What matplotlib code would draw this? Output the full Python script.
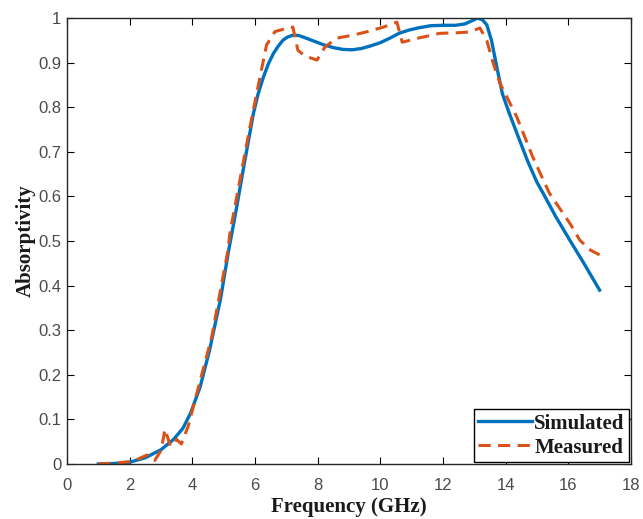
import matplotlib.pyplot as plt

# simulated absorptivity
sim_freq = [1.0, 1.5, 2.0, 2.5, 3.0, 3.4, 3.7, 3.95, 4.25, 4.55, 4.9, 5.15,
            5.4, 5.65, 5.95, 6.1, 6.27, 6.43, 6.59, 6.75, 6.9, 7.05, 7.22,
            7.4, 7.6, 7.9, 8.2, 8.5, 8.8, 9.1, 9.4, 9.7, 10.0, 10.3, 10.6,
            10.9, 11.2, 11.6, 12.0, 12.4, 12.7, 12.95, 13.1, 13.25, 13.4,
            13.55, 13.72, 13.9, 14.1, 14.36, 14.7, 15.0, 15.2, 15.6, 16.05,
            16.5, 17.0]
sim_abs = [0.0, 0.001, 0.004, 0.014, 0.032, 0.055, 0.08, 0.115, 0.173, 0.255,
           0.37, 0.475, 0.57, 0.67, 0.786, 0.83, 0.868, 0.898, 0.921, 0.938,
           0.951, 0.958, 0.962, 0.961, 0.956, 0.948, 0.94, 0.934, 0.93, 0.929,
           0.932, 0.938, 0.945, 0.955, 0.966, 0.973, 0.978, 0.983, 0.984,
           0.984, 0.987, 0.995, 1.0, 0.997, 0.985, 0.95, 0.89, 0.83, 0.79,
           0.742, 0.68, 0.632, 0.607, 0.555, 0.502, 0.45, 0.39]

# measured absorptivity
mea_freq = [1.0, 1.5, 2.0, 2.3, 2.55, 2.8, 3.0, 3.13, 3.3, 3.5, 3.65, 3.87,
            4.0, 4.3, 4.62, 4.88, 5.14, 5.2, 5.52, 5.84, 6.16, 6.37, 6.64,
            7.01, 7.21, 7.37, 7.6, 7.98, 8.23, 8.6, 9.13, 9.6, 10.1, 10.53,
            10.7, 11.2, 11.9, 12.4, 12.86, 13.18, 13.4, 13.6, 13.82, 14.1,
            14.36, 14.87, 15.4, 16.05, 16.37, 16.7, 17.0]
mea_abs = [0.0, 0.002, 0.005, 0.012, 0.02, 0.008, 0.03, 0.078, 0.04, 0.055,
           0.045, 0.085, 0.12, 0.2, 0.285, 0.383, 0.48, 0.518, 0.637, 0.756,
           0.868, 0.94, 0.97, 0.977, 0.98, 0.928, 0.915, 0.906, 0.935, 0.955,
           0.962, 0.97, 0.98, 0.991, 0.946, 0.955, 0.966, 0.967, 0.969,
           0.978, 0.95, 0.90, 0.854, 0.815, 0.778, 0.688, 0.607, 0.54, 0.502,
           0.48, 0.469]

x_ticks = list(range(0, 19, 2))
y_ticks = [i / 10 for i in range(11)]

fig = plt.figure(figsize=(6.43, 5.19), dpi=100)
ax = fig.add_axes([0.1042, 0.106, 0.877, 0.859])

ax.plot(sim_freq, sim_abs, color="#0072BD", lw=2.4, label="Simulated")
ax.plot(mea_freq, mea_abs, color="#D95319", lw=2.2, dashes=(4, 2.4),
        label="Measured")

ax.set_xlim(0, 18)
ax.set_ylim(0, 1)
ax.set_xticks(x_ticks)
ax.set_yticks(y_ticks)
ax.set_xticklabels([str(t) for t in x_ticks])
ax.set_yticklabels(["0"] + [f"{t:.1f}" for t in y_ticks[1:-1]] + ["1"])
ax.tick_params(direction="in", top=True, right=True, length=5, width=0.8,
               labelsize=12, labelcolor="#4a4a4a")
ax.tick_params(axis="x", pad=10)
ax.tick_params(axis="y", pad=4)
for lbl in ax.get_xticklabels() + ax.get_yticklabels():
    lbl.set_family("Liberation Sans")
for sp in ax.spines.values():
    sp.set_linewidth(1.0)
    sp.set_color("#262626")

serif = {"family": "Liberation Serif", "weight": "bold", "size": 15}
ax.set_xlabel("Frequency (GHz)", fontdict=serif, labelpad=3, color="#1a1a1a")
ax.set_ylabel("Absorptivity", fontdict=serif, labelpad=2, color="#1a1a1a")

leg = ax.legend(loc="lower right", prop=serif, frameon=True, fancybox=False,
                edgecolor="black", handlelength=2.6, handletextpad=0.1,
                borderpad=0.2, labelspacing=0.2, borderaxespad=0.1,
                framealpha=1)
leg.get_frame().set_linewidth(1.0)
for t in leg.get_texts():
    t.set_color("#1a1a1a")

fig.savefig("out.png", dpi=100)
